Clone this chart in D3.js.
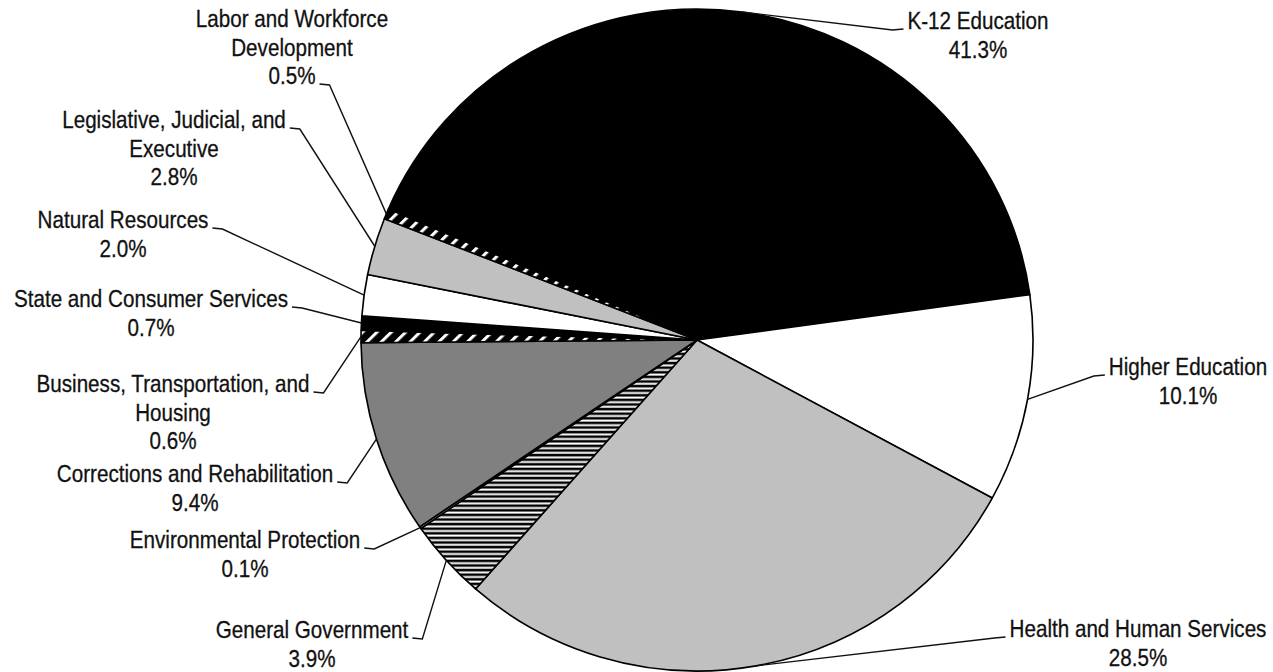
<!DOCTYPE html>
<meta charset="utf-8">
<style>
body { margin: 0; background: #fff; }
text {
  font-family: "Liberation Sans", Arial, sans-serif;
  font-size: 24px;
  fill: #111;
  stroke: #111;
  stroke-width: 0.3px;
}
</style>
<body>
<div id="chart"></div>
</body>
<script src="https://d3js.org/d3.v7.min.js"></script>
<script>

// slices, clockwise from the K-12 slice
var categories = ["K-12 Education", "Higher Education", "Health and Human Services",
  "General Government", "Environmental Protection", "Corrections and Rehabilitation",
  "Business, Transportation, and Housing", "State and Consumer Services",
  "Natural Resources", "Legislative, Judicial, and Executive", "Labor and Workforce Development"];
var shares = [41.3, 10.1, 28.5, 3.9, 0.1, 9.4, 0.6, 0.7, 2.0, 2.8, 0.5];
var labelLines = [["K-12 Education"], ["Higher Education"], ["Health and Human Services"],
  ["General Government"], ["Environmental Protection"], ["Corrections and Rehabilitation"],
  ["Business, Transportation, and", "Housing"], ["State and Consumer Services"],
  ["Natural Resources"], ["Legislative, Judicial, and", "Executive"],
  ["Labor and Workforce", "Development"]];

var fills = ["#000", "#fff", "#c0c0c0", "url(#hstripe)", "#fff", "#808080",
  "url(#diag)", "#000", "#fff", "#c0c0c0", "url(#diag)"];

// label placement: centre x, first baseline, side the leader leaves from, line it leaves from
var labelPos = [
  [978, 29, "left", 0], [1188, 375, "left", 0], [1138, 637, "left", 0],
  [312, 638, "right", 0], [245, 548, "right", 0], [195, 482, "right", 0],
  [173, 392, "right", 0], [151, 307, "right", 0], [123, 228, "right", 0],
  [174, 128, "right", 0], [292, 27, "right", 2]
];

var width = 1273, height = 672,
    cx = 697, cy = 340, rx = 336, ry = 331,
    lineGap = 28.5,
    squeeze = 0.86,   // condensed look from a regular face
    start = -66.7 * Math.PI / 180;

var svg = d3.select("#chart").append("svg")
    .attr("width", width)
    .attr("height", height);

var defs = svg.append("defs");

var hs = defs.append("pattern").attr("id", "hstripe")
    .attr("patternUnits", "userSpaceOnUse")
    .attr("width", 8).attr("height", 4.6);
hs.append("rect").attr("width", 8).attr("height", 4.6).attr("fill", "#000");
hs.append("rect").attr("y", 1.4).attr("width", 8).attr("height", 2).attr("fill", "#fff");

var dg = defs.append("pattern").attr("id", "diag")
    .attr("patternUnits", "userSpaceOnUse")
    .attr("width", 10).attr("height", 10)
    .attr("patternTransform", "rotate(45)");
dg.append("rect").attr("width", 10).attr("height", 10).attr("fill", "#000");
dg.append("rect").attr("width", 3).attr("height", 10).attr("fill", "#fff");

var data = categories.map(function(c, i) {
  return { name: c, value: shares[i], lines: labelLines[i], fill: fills[i], pos: labelPos[i] };
});

var pie = d3.pie()
    .sort(null)
    .value(function(d) { return d.value; })
    .startAngle(start)
    .endAngle(start + 2 * Math.PI);

var arc = d3.arc().innerRadius(0).outerRadius(ry);

var arcs = pie(data);

var g = svg.append("g")
    .attr("transform", "translate(" + cx + "," + cy + ") scale(" + (rx / ry) + ",1)");

g.selectAll("path")
  .data(arcs)
  .enter().append("path")
    .attr("d", arc)
    .attr("fill", function(d) { return d.data.fill; })
    .attr("stroke", "#000")
    .attr("stroke-width", 1.6)
    .attr("stroke-linejoin", "round");

// labels
var labels = svg.selectAll(".label")
  .data(arcs)
  .enter().append("g")
    .attr("class", "label");

labels.each(function(d) {
  var sel = d3.select(this),
      p = d.data.pos,
      lines = d.data.lines.concat([d.data.value.toFixed(1) + "%"]);
  var txt = sel.selectAll("g.line")
    .data(lines)
    .enter().append("g")
      .attr("class", "line")
      .attr("transform", function(l, i) {
        return "translate(" + p[0] + "," + (p[1] + i * lineGap) + ") scale(" + squeeze + ",1)";
      })
    .append("text")
      .attr("text-anchor", "middle")
      .text(function(l) { return l; });

  var node = txt.nodes()[p[3]],
      w = node.getComputedTextLength() * squeeze,
      y = p[1] + p[3] * lineGap,
      x0, x1;
  if (p[2] === "right") { x0 = p[0] + w / 2 + 4; x1 = x0 + 10; }
  else { x0 = p[0] - w / 2 - 4; x1 = x0 - 11; }

  var a = (d.startAngle + d.endAngle) / 2,
      px = cx + rx * Math.sin(a),
      py = cy - ry * Math.cos(a);

  sel.append("polyline")
    .attr("points", [[x0, y], [x1, y + 1], [px, py]].map(function(q) { return q.join(","); }).join(" "))
    .attr("fill", "none")
    .attr("stroke", "#111")
    .attr("stroke-width", 1.4);
});

</script>
